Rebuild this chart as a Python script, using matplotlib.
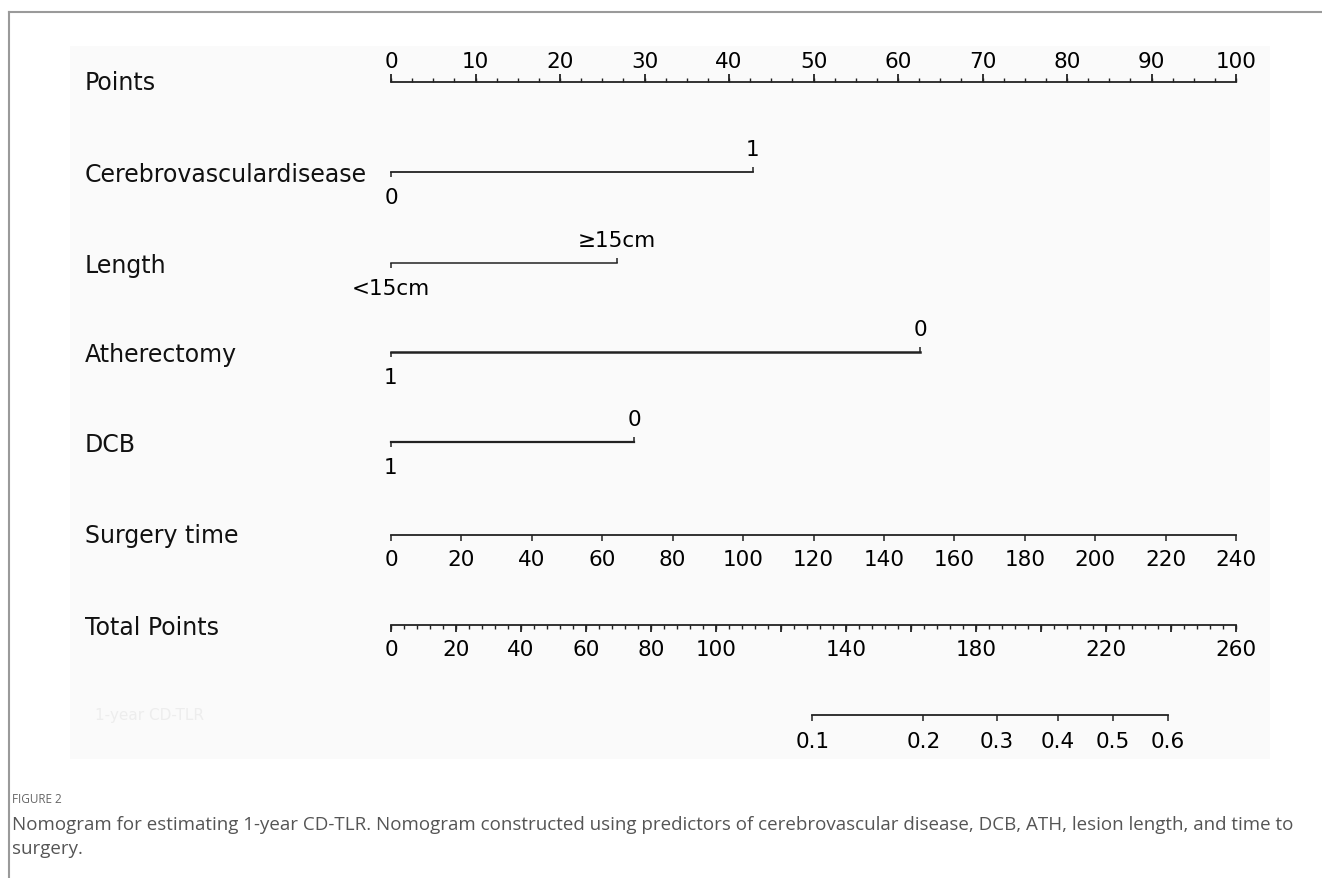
import numpy as np
import matplotlib
matplotlib.use("Agg")
import matplotlib.pyplot as plt
from matplotlib.patches import Rectangle

# nomogram scores (Points scale, 0-100)
points_major = np.arange(0, 101, 10)
points_minor = np.arange(0, 100.1, 2.5)

cerebro_levels = ["0", "1"]
cerebro_points = [0, 42.8]

length_levels = ["<15cm", "≥15cm"]
length_points = [0, 26.7]

ath_levels = ["1", "0"]
ath_points = [0, 62.6]

dcb_levels = ["1", "0"]
dcb_points = [0, 28.8]

surgery_ticks = np.arange(0, 241, 20)
surgery_max = 240          # minutes that give 100 points

total_max = 260
total_major = np.arange(0, 261, 20)
total_minor = np.arange(0, 261, 4)
total_labels = [0, 20, 40, 60, 80, 100, 140, 180, 220, 260]

risk_labels = ["0.1", "0.2", "0.3", "0.4", "0.5", "0.6"]
risk_total_points = [129.6, 163.8, 186.5, 205.1, 222.1, 239.1]

W, H = 1322, 879
fig = plt.figure(figsize=(W / 100, H / 100), dpi=100)
fig.patch.set_facecolor("white")

# light panel behind the nomogram
fig.patches.append(Rectangle((70 / W, 1 - 760 / H), 1200 / W, 713 / H,
                             transform=fig.transFigure, facecolor="#fafafa",
                             edgecolor="none", zorder=-10))

ax = fig.add_axes([0, 0, 1, 1])
ax.patch.set_alpha(0)
ax.axis("off")
px = 845 / 100.0            # pixels per point
x0 = 391
ax.set_xlim(-x0 / px, (W - x0) / px)
ax.set_ylim(H, 0)

lab_fs = 17
num_fs = 15.5
lc = "#222222"
font = "DejaVu Sans"

def row_label(y, s):
    ax.text(-x0 / px + 85 / px, y, s, fontsize=lab_fs, va="center", ha="left",
            color="#111111", family=font)

# Points
y = 83
ax.plot([0, 100], [y, y], color=lc, lw=1.3)
ax.vlines(points_minor, y - 4, y, color=lc, lw=1.0)
ax.vlines(points_major, y - 8, y, color=lc, lw=1.3)
for v in points_major:
    ax.text(v, y - 21, str(v), fontsize=num_fs, ha="center", va="center", family=font)
row_label(y, "Points")

# categorical predictors
def cat_row(y, levels, pts, name, lw=1.3):
    ax.plot([pts[0], pts[1]], [y, y], color=lc, lw=lw)
    ax.vlines(pts[0], y, y + 5, color=lc, lw=1.1)
    ax.vlines(pts[1], y - 5, y, color=lc, lw=1.1)
    ax.text(pts[0], y + 25, levels[0], fontsize=num_fs, ha="center", va="center", family=font)
    ax.text(pts[1], y - 23, levels[1], fontsize=num_fs, ha="center", va="center", family=font)
    row_label(y + 2, name)

cat_row(173, cerebro_levels, cerebro_points, "Cerebrovasculardisease")
cat_row(264, length_levels, length_points, "Length", lw=1.1)
cat_row(353, ath_levels, ath_points, "Atherectomy", lw=1.8)
cat_row(443, dcb_levels, dcb_points, "DCB", lw=1.6)

# Surgery time
y = 536
sx = surgery_ticks / surgery_max * 100
ax.plot([0, 100], [y, y], color=lc, lw=1.3)
ax.vlines(sx, y, y + 6, color=lc, lw=1.1)
for v, xv in zip(surgery_ticks, sx):
    ax.text(xv, y + 24, str(v), fontsize=num_fs, ha="center", va="center", family=font)
row_label(y, "Surgery time")

# Total Points
y = 626
scale = 100 / total_max
ax.plot([0, 100], [y, y], color=lc, lw=1.3)
ax.vlines(total_minor * scale, y, y + 4, color=lc, lw=1.0)
ax.vlines(total_major * scale, y, y + 7, color=lc, lw=1.3)
for v in total_labels:
    ax.text(v * scale, y + 24, str(v), fontsize=num_fs, ha="center", va="center", family=font)
row_label(y + 2, "Total Points")

# predicted risk
y = 716
rx = np.array(risk_total_points) * scale
ax.plot([rx[0], rx[-1]], [y, y], color=lc, lw=1.3)
ax.vlines(rx, y, y + 6, color=lc, lw=1.1)
for s, xv in zip(risk_labels, rx):
    ax.text(xv, y + 26, s, fontsize=num_fs, ha="center", va="center", family=font)
ax.text(-x0 / px + 95 / px, y, "1-year CD-TLR", fontsize=11, va="center",
        ha="left", color="#ededed", family=font)

# outer frame (top and left rules)
fig.add_artist(plt.Line2D([9 / W, 1], [1 - 13 / H, 1 - 13 / H], color="#9a9a9a",
                          lw=1.5, transform=fig.transFigure))
fig.add_artist(plt.Line2D([9 / W, 9 / W], [0, 1 - 13 / H], color="#9a9a9a",
                          lw=1.5, transform=fig.transFigure))

# caption
fig.text(12 / W, 1 - 800 / H, "FIGURE 2", fontsize=8.5, color="#666666",
         family="Open Sans", va="center")
fig.text(12 / W, 1 - 825 / H,
         "Nomogram for estimating 1-year CD-TLR. Nomogram constructed using predictors "
         "of cerebrovascular disease, DCB, ATH, lesion length, and time to",
         fontsize=13.5, color="#555555", family="Open Sans", va="center")
fig.text(12 / W, 1 - 849 / H, "surgery.", fontsize=13.5, color="#555555",
         family="Open Sans", va="center")

fig.savefig("out.png", dpi=100, facecolor="white")
